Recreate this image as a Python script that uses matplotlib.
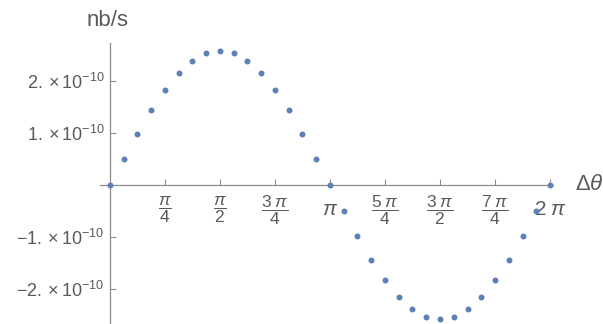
import numpy as np
import matplotlib
matplotlib.use("Agg")
import matplotlib.pyplot as plt

plt.rcParams['font.family'] = ['Liberation Sans', 'DejaVu Sans']
plt.rcParams['mathtext.fontset'] = 'custom'
plt.rcParams['mathtext.rm'] = 'Liberation Sans'
plt.rcParams['mathtext.it'] = 'Liberation Sans:italic'
plt.rcParams['mathtext.bf'] = 'Liberation Sans:bold'

# samples every pi/16 from 0 to 2 pi
theta = np.pi / 16 * np.arange(33)
# rate in units of 1e-10 nb/s
rate = [0.00, 0.50, 0.98, 1.43, 1.82, 2.14, 2.37, 2.52, 2.57, 2.52, 2.37,
        2.14, 1.82, 1.43, 0.98, 0.50, 0.00, -0.50, -0.98, -1.43, -1.82,
        -2.14, -2.37, -2.52, -2.57, -2.52, -2.37, -2.14, -1.82, -1.43,
        -0.98, -0.50, 0.00]

xticks = [np.pi / 4 * k for k in range(1, 9)]
xlabels = [r'$\dfrac{\pi}{4}$', r'$\dfrac{\pi}{2}$', r'$\dfrac{3\;\pi}{4}$', r'$\pi$',
           r'$\dfrac{5\;\pi}{4}$', r'$\dfrac{3\;\pi}{2}$', r'$\dfrac{7\;\pi}{4}$', r'$2\;\pi$']
yticks = [-2e-10, -1e-10, 1e-10, 2e-10]
ylabels = [r'$-2.\times10^{-10}$', r'$-1.\times10^{-10}$',
           r'$1.\times10^{-10}$', r'$2.\times10^{-10}$']

axis_col = '#8c8c8c'
text_col = '#5a5a5a'

fig = plt.figure(figsize=(6.03, 3.24), dpi=100)
ax = fig.add_axes([100 / 603, 0, 453 / 603, (324 - 43) / 324])

ax.plot(theta, np.array(rate) * 1e-10, 'o', color='#5E81B5', ms=4.3, mew=0,
        clip_on=False, zorder=3)

ax.set_xlim(-10 / 70.03, 2 * np.pi + 3 / 70.03)
ax.set_ylim(-139 / 52.2 * 1e-10, 142 / 52.2 * 1e-10)

for s in ['top', 'right']:
    ax.spines[s].set_visible(False)
ax.spines['left'].set_position(('data', 0))
ax.spines['bottom'].set_position(('data', 0))
for s in ['left', 'bottom']:
    ax.spines[s].set_color(axis_col)
    ax.spines[s].set_linewidth(0.9)

ax.set_xticks(xticks)
ax.set_xticklabels(xlabels)
ax.set_yticks(yticks)
ax.set_yticklabels(ylabels)
ax.tick_params(axis='x', direction='in', length=4, width=0.8, color=axis_col,
               pad=18, labelcolor=text_col)
ax.tick_params(axis='y', direction='in', length=4, width=0.8, color=axis_col,
               pad=4, labelcolor=text_col, labelsize=13)
for lab in ax.get_xticklabels():
    lab.set_va('center')
    if 'dfrac' in lab.get_text():
        lab.set_fontsize(12.5)
    else:
        lab.set_fontsize(15)

fig.text(108 / 603, 1 - 20 / 324, 'nb/s', fontsize=16, color=text_col,
         ha='center', va='center')
fig.text(575 / 603, 1 - 184 / 324, r'$\Delta\theta$', fontsize=16, color=text_col,
         ha='left', va='center')

fig.savefig('out.png', dpi=100)
